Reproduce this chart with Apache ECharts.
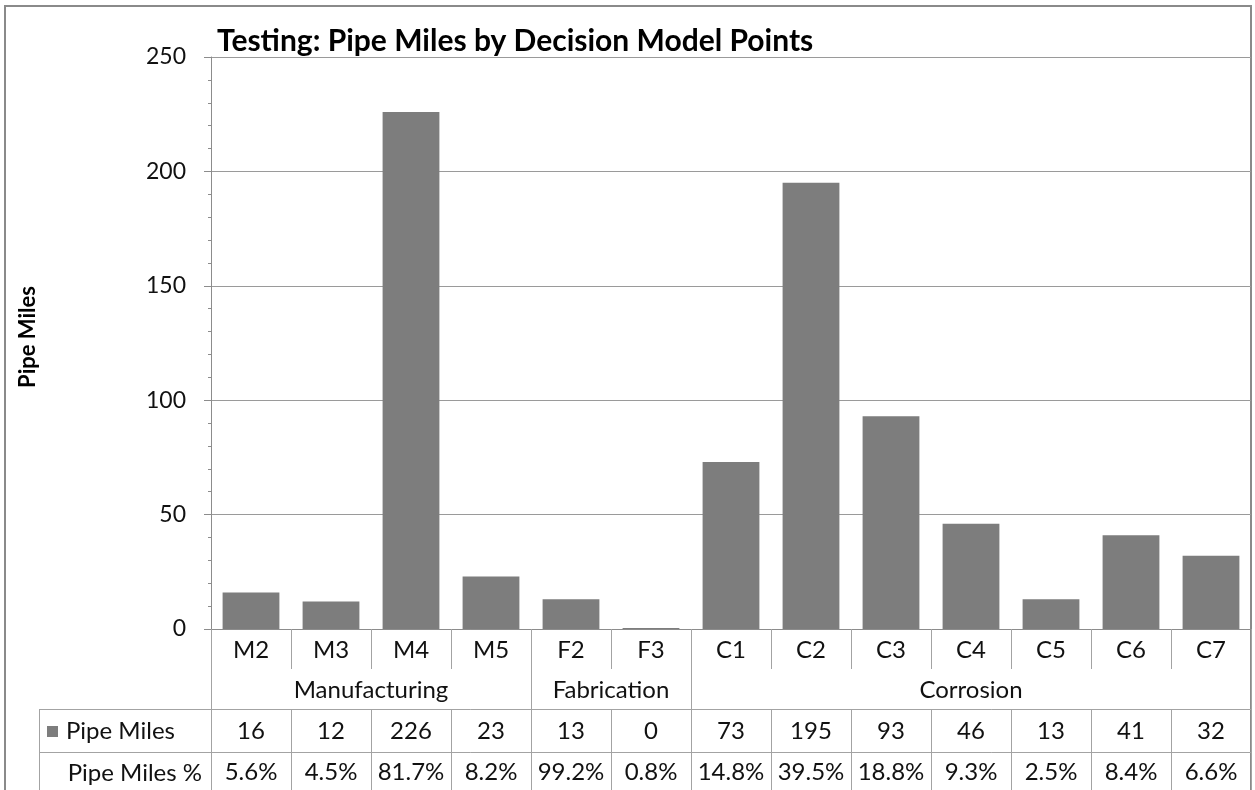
<!DOCTYPE html>
<html>
<head>
<meta charset="utf-8">
<script src="https://cdn.jsdelivr.net/npm/echarts@6/dist/echarts.min.js"></script>
<style>
  html, body { margin: 0; padding: 0; background: #fff; }
  #chart { width: 1255px; height: 790px; }
</style>
</head>
<body>
<div id="chart"></div>
<script>
// Decision model points and pipe miles per point
const categories = ['M2', 'M3', 'M4', 'M5', 'F2', 'F3', 'C1', 'C2', 'C3', 'C4', 'C5', 'C6', 'C7'];
const pipeMiles = [16, 12, 226, 23, 13, 0.4, 73, 195, 93, 46, 13, 41, 32];
const pipeMilesPct = ['5.6%', '4.5%', '81.7%', '8.2%', '99.2%', '0.8%', '14.8%', '39.5%', '18.8%', '9.3%', '2.5%', '8.4%', '6.6%'];

// Threat groups spanning consecutive points
const groupNames = ['Manufacturing', 'Fabrication', 'Corrosion'];
const groupSizes = [4, 2, 7];

const yTicks = [0, 50, 100, 150, 200, 250];

// Group boundaries and centres in category units
const groupEdges = [0];
groupSizes.forEach(n => groupEdges.push(groupEdges[groupEdges.length - 1] + n));
const groupCenters = groupNames.map((_, i) => (groupEdges[i] + groupEdges[i + 1]) / 2);

const FONT = 'Lato, "Open Sans", sans-serif';
const FS = 24;
const BAR = '#7d7d7d';
const LINE = '#a3a3a3';
const TXT = '#111';

const chart = echarts.init(document.getElementById('chart'), null, { renderer: 'canvas' });

const tableAxis = (labels, offset, tickLen, margin) => ({
  type: 'category',
  data: labels,
  position: 'bottom',
  offset: offset,
  axisLine: { show: true, lineStyle: { color: LINE, width: 1 } },
  axisTick: { show: true, interval: 0, length: tickLen, lineStyle: { color: LINE } },
  axisLabel: { interval: 0, hideOverlap: false, margin: margin, fontSize: FS, color: TXT, fontFamily: FONT },
  splitLine: { show: false }
});

chart.setOption({
  animation: false,
  backgroundColor: '#fff',
  title: {
    text: 'Testing: Pipe Miles by Decision Model Points',
    left: 212,
    top: 21,
    textStyle: { fontSize: 30, fontWeight: 'bold', color: '#000', fontFamily: FONT }
  },
  grid: { left: 211, right: 4, top: 57, bottom: 161, containLabel: false },
  yAxis: {
    type: 'value',
    min: yTicks[0],
    max: yTicks[yTicks.length - 1],
    interval: 50,
    name: 'Pipe Miles',
    nameLocation: 'middle',
    nameGap: 172,
    nameTextStyle: { fontSize: 22, fontWeight: 'bold', color: '#000', fontFamily: FONT, padding: [0, 0, 0, 12] },
    axisLine: { show: true, lineStyle: { color: '#8c8c8c' } },
    axisTick: { show: true, length: 7, lineStyle: { color: '#8c8c8c' } },
    minorTick: { show: true, splitNumber: 5, length: 3, lineStyle: { color: '#8c8c8c' } },
    axisLabel: { margin: 25, fontSize: 23, color: TXT, fontFamily: FONT },
    splitLine: { show: true, lineStyle: { color: '#9a9a9a', width: 1 } }
  },
  xAxis: [
    {
      type: 'category',
      data: categories,
      position: 'bottom',
      axisLine: { show: true, lineStyle: { color: '#8c8c8c' } },
      axisTick: { show: true, interval: 0, length: 40, lineStyle: { color: LINE } },
      axisLabel: { interval: 0, margin: 9, fontSize: FS, color: TXT, fontFamily: FONT },
      splitLine: { show: false }
    },
    {
      type: 'value',
      min: 0,
      max: categories.length,
      position: 'bottom',
      axisLine: { show: false },
      axisTick: { show: true, length: 80, customValues: groupEdges, lineStyle: { color: LINE } },
      axisLabel: {
        show: true,
        customValues: groupCenters,
        margin: 49,
        fontSize: FS,
        color: TXT,
        fontFamily: FONT,
        formatter: v => groupNames[groupCenters.indexOf(v)] || ''
      },
      splitLine: { show: false }
    },
    tableAxis(pipeMiles.map(v => String(Math.round(v))), 80, 43, 10),
    tableAxis(pipeMilesPct, 123, 45, 8)
  ],
  series: [{
    name: 'Pipe Miles',
    type: 'bar',
    xAxisIndex: 0,
    data: pipeMiles,
    barCategoryGap: '29%',
    itemStyle: { color: BAR }
  }],
  graphic: [
    // chart frame
    { type: 'rect', silent: true, z: -1, shape: { x: 5, y: 6, width: 1246, height: 820 },
      style: { fill: 'none', stroke: '#8a8a8a', lineWidth: 2 } },
    // row headers of the data table
    { type: 'line', silent: true, shape: { x1: 39, y1: 709.5, x2: 211, y2: 709.5 }, style: { stroke: LINE, lineWidth: 1 } },
    { type: 'line', silent: true, shape: { x1: 39, y1: 752.5, x2: 211, y2: 752.5 }, style: { stroke: LINE, lineWidth: 1 } },
    { type: 'line', silent: true, shape: { x1: 39.5, y1: 709, x2: 39.5, y2: 800 }, style: { stroke: LINE, lineWidth: 1 } },
    { type: 'rect', silent: true, shape: { x: 47, y: 726, width: 11, height: 11 }, style: { fill: BAR } },
    { type: 'text', silent: true, x: 66, y: 731,
      style: { text: 'Pipe Miles', fontSize: FS, fontFamily: FONT, fill: TXT, verticalAlign: 'middle', align: 'left' } },
    { type: 'text', silent: true, x: 202, y: 773,
      style: { text: 'Pipe Miles %', fontSize: FS, fontFamily: FONT, fill: TXT, verticalAlign: 'middle', align: 'right' } }
  ]
});
</script>
</body>
</html>
